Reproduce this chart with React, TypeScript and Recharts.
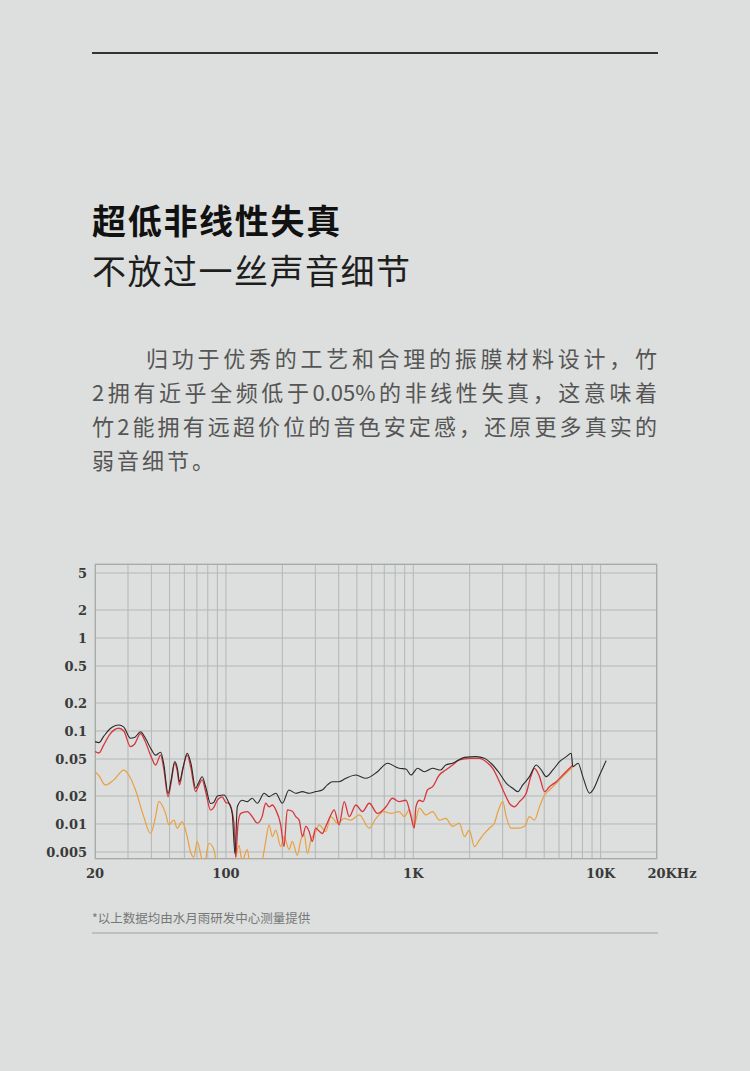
import { LineChart, Line, XAxis, YAxis, CartesianGrid, ReferenceArea } from 'recharts';

// frequency (Hz) / THD (%)
const BLACK_F = [20, 21, 22.2, 24, 26.8, 28.5, 30.9, 32.5, 35, 37, 40, 42.1, 44.8, 46.5, 49.1, 51, 53.3, 55, 56.5, 59, 62.1, 65, 68.9, 71, 74.7, 78, 82.8, 86, 90, 97.6, 103.8, 108, 111.7, 115, 122, 130, 138, 147, 160, 170, 184.5, 200, 217, 236, 256, 278, 302, 327, 348, 370, 402, 437, 494, 558, 644, 729, 808, 841, 914, 972, 1055, 1145, 1268, 1400, 1490, 1622, 1875, 2165, 2397, 2600, 2884, 3133, 3396, 3613, 3842, 4171, 4530, 4819, 5125, 5561, 6039, 6557, 6966, 7112, 7580, 8035, 8730, 9100, 9880, 10700];
const BLACK_V = [0.077, 0.075, 0.087, 0.105, 0.116, 0.11, 0.0835, 0.085, 0.098, 0.085, 0.063, 0.055, 0.059, 0.045, 0.0213, 0.03, 0.047, 0.04, 0.0285, 0.04, 0.0576, 0.045, 0.0243, 0.027, 0.0322, 0.025, 0.0166, 0.017, 0.02, 0.0205, 0.0167, 0.013, 0.0048, 0.0153, 0.018, 0.0174, 0.0189, 0.0167, 0.0214, 0.0197, 0.0214, 0.0167, 0.0232, 0.0214, 0.0223, 0.0214, 0.0223, 0.0232, 0.0263, 0.0285, 0.0285, 0.031, 0.0336, 0.031, 0.0365, 0.045, 0.041, 0.0397, 0.039, 0.0336, 0.0397, 0.0365, 0.0397, 0.038, 0.0431, 0.045, 0.052, 0.053, 0.051, 0.045, 0.0351, 0.0275, 0.0242, 0.0223, 0.0263, 0.0323, 0.0431, 0.0381, 0.0323, 0.0381, 0.0468, 0.053, 0.0576, 0.0413, 0.045, 0.0323, 0.0214, 0.0232, 0.0336, 0.048];

const RED_F = [20, 21, 22.2, 24, 26.8, 28.5, 30.9, 32.5, 35, 37, 40, 42.1, 44.8, 46.5, 49.1, 51, 53.3, 55, 56.5, 59, 62.1, 65, 68.9, 71, 74.7, 78, 82.8, 86, 90, 95.5, 100, 103.8, 110.4, 112.7, 116, 120, 130, 138, 147, 156, 163, 170, 177, 184.5, 196, 204, 212.7, 226, 236, 246, 256, 267, 278, 289, 301, 314, 327, 341, 363, 378, 402, 428, 455, 494, 536, 582, 644, 715, 775, 841, 914, 972, 1012, 1033, 1077, 1128, 1190, 1268, 1377, 1490, 1622, 1762, 1992, 2254, 2447, 2655, 2884, 3067, 3260, 3470, 3689, 4008, 4240, 4435, 4718, 5020, 5336, 5797, 6285, 6680, 7112];
const RED_V = [0.06, 0.058, 0.07, 0.092, 0.107, 0.1, 0.068, 0.072, 0.094, 0.078, 0.052, 0.043, 0.055, 0.04, 0.0196, 0.028, 0.045, 0.037, 0.0263, 0.04, 0.055, 0.04, 0.0223, 0.025, 0.0298, 0.022, 0.0141, 0.015, 0.018, 0.0196, 0.017, 0.0167, 0.0102, 0.0044, 0.01, 0.013, 0.0136, 0.012, 0.0102, 0.012, 0.0167, 0.0153, 0.016, 0.0142, 0.0098, 0.0057, 0.0142, 0.0137, 0.012, 0.011, 0.0073, 0.0094, 0.0083, 0.0065, 0.009, 0.0084, 0.0079, 0.0094, 0.0125, 0.0142, 0.0098, 0.0174, 0.012, 0.016, 0.0136, 0.0167, 0.013, 0.0153, 0.0189, 0.0174, 0.018, 0.012, 0.009, 0.0153, 0.018, 0.0174, 0.0232, 0.0252, 0.0336, 0.038, 0.0431, 0.0488, 0.0508, 0.0508, 0.0468, 0.0397, 0.0285, 0.0214, 0.0167, 0.0153, 0.0174, 0.0214, 0.0323, 0.0397, 0.0323, 0.0223, 0.0252, 0.0285, 0.0336, 0.038, 0.0431];

const ORANGE_F = [20, 21, 22.7, 25.2, 28.5, 30.3, 32.9, 36.4, 39.6, 42.1, 43.8, 47.6, 49.6, 52.7, 54.9, 58.4, 62.1, 64.7, 67.5, 70.2, 73.2, 76.3, 81.1, 86.3, 89.8, 95, 103, 110, 117.4, 122, 130, 135, 150, 156.4, 163, 169.8, 176.9, 184.5, 196.2, 204.3, 217.3, 226, 240.6, 250.9, 261.2, 272.1, 283.8, 301.7, 314, 341, 363, 394, 428, 464, 515, 582, 632, 699, 760, 841, 896, 952, 1012, 1077, 1169, 1268, 1377, 1490, 1622, 1762, 1875, 1992, 2120, 2254, 2397, 2548, 2710, 2832, 3005, 3133, 3330, 3613, 3923, 4171, 4435, 4718, 5020, 5336, 5797, 6285, 6823, 7112];
const ORANGE_V = [0.0365, 0.033, 0.0263, 0.0298, 0.038, 0.0336, 0.0232, 0.012, 0.0079, 0.012, 0.0174, 0.013, 0.0098, 0.011, 0.009, 0.0106, 0.0073, 0.005, 0.0044, 0.0065, 0.0048, 0.0035, 0.0062, 0.0053, 0.0035, 0.0035, 0.0035, 0.0035, 0.0059, 0.004, 0.0053, 0.0035, 0.0035, 0.0041, 0.0065, 0.0098, 0.0073, 0.0086, 0.0057, 0.0073, 0.0053, 0.0065, 0.0046, 0.0067, 0.0079, 0.0048, 0.0067, 0.0083, 0.0098, 0.0083, 0.012, 0.0102, 0.0115, 0.011, 0.0125, 0.009, 0.0115, 0.0136, 0.013, 0.0136, 0.012, 0.0142, 0.0098, 0.0148, 0.0125, 0.0136, 0.011, 0.0115, 0.0094, 0.0102, 0.0073, 0.0086, 0.0057, 0.0067, 0.0079, 0.009, 0.0102, 0.0136, 0.0174, 0.012, 0.009, 0.009, 0.0094, 0.012, 0.011, 0.0153, 0.0205, 0.0232, 0.0274, 0.0323, 0.0381, 0.0413];

const X_GRID = [20, 30, 40, 50, 60, 70, 80, 90, 100, 200, 300, 400, 500, 600, 700, 800, 900, 1000, 2000, 3000, 4000, 5000, 6000, 7000, 8000, 9000, 10000, 20000];
const X_LABELS: Record<number, string> = { 20: '20', 100: '100', 1000: '1K', 10000: '10K', 20000: '20KHz' };
const Y_TICKS = [0.005, 0.01, 0.02, 0.05, 0.1, 0.2, 0.5, 1, 2, 5];
const Y_MIN = 0.0042;
const Y_MAX = 6.25;

const CJK = '"Noto Sans CJK SC", "Noto Sans", sans-serif';
const TICK_FONT = '"DejaVu Serif", "Liberation Serif", serif';
const BG = '#dcdfdd';

const toPoints = (f: number[], v: number[]) => f.map((x, i) => ({ f: x, v: v[i] }));

const PARA = [
  '归功于优秀的工艺和合理的振膜材料设计，竹',
  '2拥有近乎全频低于0.05%的非线性失真，这意味着',
  '竹2能拥有远超价位的音色安定感，还原更多真实的',
  '弱音细节。',
];

function XTick({ x, payload }: any) {
  const label = X_LABELS[payload.value];
  if (!label) return null;
  const shift = payload.value === 20000 ? 15 : 0;
  return (
    <text x={x + shift} y={338} textAnchor="middle" fontFamily={TICK_FONT} fontWeight="bold" fontSize={13} fill="#3a3a3a">
      {label}
    </text>
  );
}

function YTick({ y, payload }: any) {
  return (
    <text x={87} y={y + 5} textAnchor="end" fontFamily={TICK_FONT} fontWeight="bold" fontSize={13} fill="#3a3a3a">
      {payload.value}
    </text>
  );
}

export default function App() {
  return (
    <div style={{ position: 'absolute', left: 0, top: 0, width: 750, height: 1071, background: BG, overflow: 'hidden' }}>
      <div style={{ position: 'absolute', left: 92, top: 52, width: 566, height: 2, background: '#333' }} />

      <div style={{ position: 'absolute', left: 92, top: 199, fontFamily: CJK, fontSize: 34, fontWeight: 700, lineHeight: '42px', letterSpacing: 1.7, color: '#111', whiteSpace: 'nowrap' }}>
        超低非线性失真
      </div>
      <div style={{ position: 'absolute', left: 92, top: 249, fontFamily: CJK, fontSize: 34, fontWeight: 400, lineHeight: '42px', letterSpacing: 1.5, color: '#1e1e1e', whiteSpace: 'nowrap' }}>
        不放过一丝声音细节
      </div>

      <div style={{ position: 'absolute', left: 92, top: 340, width: 565, fontFamily: CJK, fontSize: 22, lineHeight: '34px', color: '#555' }}>
        {PARA.map((line, i) => (
          <div
            key={i}
            style={{
              paddingLeft: i === 0 ? 54 : 0,
              textAlign: 'justify',
              textAlignLast: i < PARA.length - 1 ? 'justify' : 'left',
              whiteSpace: 'nowrap',
              letterSpacing: i === PARA.length - 1 ? 3 : 0,
            }}
          >
            {line}
          </div>
        ))}
      </div>

      <div style={{ position: 'absolute', left: 0, top: 540 }}>
        <LineChart width={750} height={360} margin={{ top: 24, right: 93, bottom: 11, left: 0 }}>
          <CartesianGrid stroke="#b3b7b6" strokeWidth={1} />
          <XAxis
            dataKey="f"
            type="number"
            scale="log"
            domain={[20, 20000]}
            ticks={X_GRID}
            interval={0}
            allowDataOverflow
            axisLine={false}
            tickLine={false}
            height={30}
            tick={<XTick />}
          />
          <YAxis
            dataKey="v"
            type="number"
            scale="log"
            domain={[Y_MIN, Y_MAX]}
            ticks={Y_TICKS}
            interval={0}
            allowDataOverflow
            axisLine={false}
            tickLine={false}
            width={95}
            tick={<YTick />}
          />
          <ReferenceArea x1={20} x2={20000} y1={Y_MIN} y2={Y_MAX} fill="none" stroke="#a7abaa" strokeWidth={2} ifOverflow="hidden" />
          <Line data={toPoints(ORANGE_F, ORANGE_V)} dataKey="v" type="monotone" stroke="#eb9f40" strokeWidth={1.2} dot={false} isAnimationActive={false} />
          <Line data={toPoints(RED_F, RED_V)} dataKey="v" type="monotone" stroke="#d8363d" strokeWidth={1.3} dot={false} isAnimationActive={false} />
          <Line data={toPoints(BLACK_F, BLACK_V)} dataKey="v" type="monotone" stroke="#2a2a2a" strokeWidth={1.1} dot={false} isAnimationActive={false} />
        </LineChart>
      </div>

      <div style={{ position: 'absolute', left: 92, top: 909, fontFamily: CJK, fontSize: 12.5, lineHeight: '18px', color: '#777', whiteSpace: 'nowrap' }}>
        *以上数据均由水月雨研发中心测量提供
      </div>
      <div style={{ position: 'absolute', left: 92, top: 932, width: 566, height: 2, background: '#bcc0bf' }} />
    </div>
  );
}
